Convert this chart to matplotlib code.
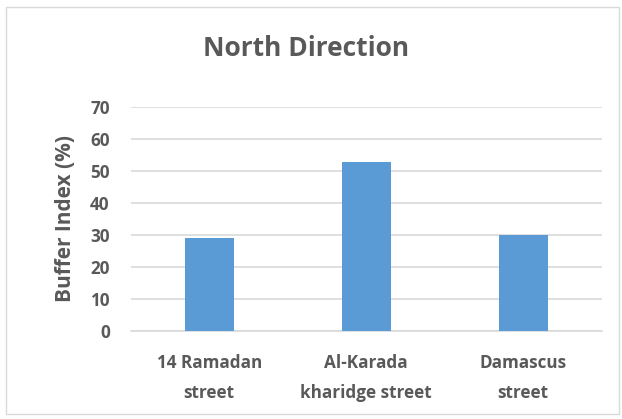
import matplotlib.pyplot as plt
from matplotlib.patches import Rectangle

streets = ["14 Ramadan\nstreet", "Al-Karada\nkharidge street", "Damascus\nstreet"]
buffer_index = [29, 53, 30]
yticks = [0, 10, 20, 30, 40, 50, 60, 70]

grey = "#595959"
plt.rcParams["font.family"] = ["Open Sans", "DejaVu Sans"]

fig = plt.figure(figsize=(6.22, 4.19), dpi=100)
ax = fig.add_axes([130.7 / 622, 1 - 330.7 / 419, 471 / 622, 223.4 / 419])

ax.bar(range(len(streets)), buffer_index, width=0.31, color="#5B9BD5", zorder=3)
ax.set_xlim(-0.5, len(streets) - 0.5)
ax.set_ylim(0, 70)
ax.set_yticks(yticks)
ax.grid(axis="y", color="#D9D9D9", linewidth=1.2, zorder=0)
ax.set_xticks(range(len(streets)))
ax.set_xticklabels(streets, fontsize=12.3, fontweight="bold", color=grey, linespacing=1.8)
for lab in ax.get_yticklabels():
    lab.set_fontsize(12.3)
    lab.set_fontweight("bold")
    lab.set_color(grey)
ax.tick_params(axis="both", length=0)
ax.tick_params(axis="x", pad=17)
ax.tick_params(axis="y", pad=15)
for s in ["top", "right", "left"]:
    ax.spines[s].set_visible(False)
ax.spines["bottom"].set_color("#D9D9D9")
ax.spines["bottom"].set_linewidth(1.2)

ax.set_ylabel("Buffer Index (%)", fontsize=15, fontweight="bold", color=grey, labelpad=10)
fig.text(306 / 622, 1 - 48 / 419, "North Direction", ha="center", va="center",
         fontsize=19, fontweight="bold", color=grey)

fig.patches.append(Rectangle((5.5 / 622, 1 - 414 / 419), 613 / 622, 407 / 419,
                             transform=fig.transFigure, fill=False,
                             edgecolor="#D9D9D9", linewidth=1))

fig.savefig("out.png", dpi=100)
